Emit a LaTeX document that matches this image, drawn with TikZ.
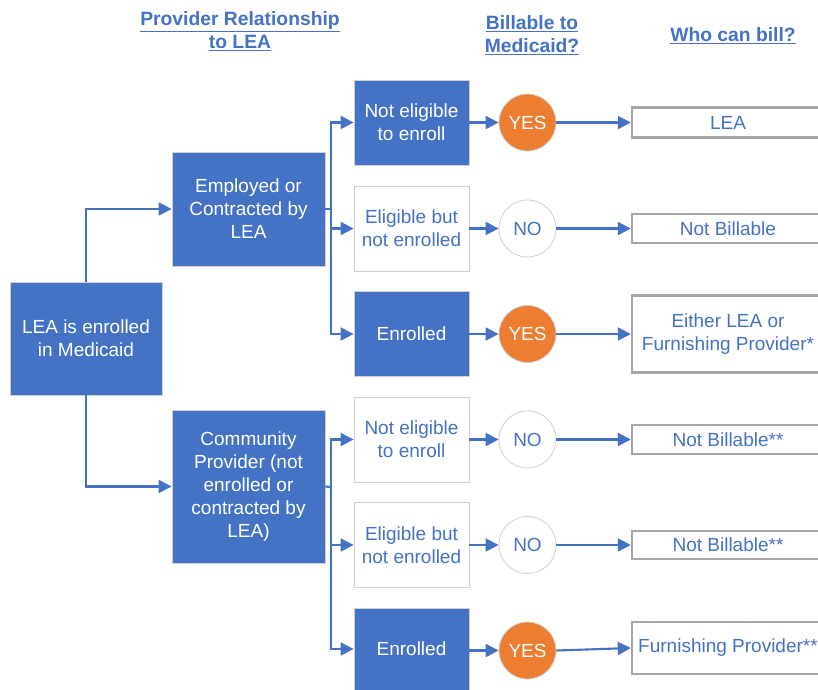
\documentclass[tikz,border=0pt]{standalone}
\usepackage{fontspec}
\setmainfont{Liberation Sans}
\usetikzlibrary{arrows.meta}
\definecolor{myblue}{HTML}{4472C4}
\definecolor{myorange}{HTML}{ED7D31}
\definecolor{mygray}{HTML}{A5A5A5}
\definecolor{lightgray}{HTML}{D0D0D0}
\tikzset{
  base/.style={font=\fontsize{19}{23}\selectfont, align=center, inner sep=2pt},
  bluebox/.style={base, fill=myblue, draw=lightgray, line width=0.8pt, text=white},
  whitebox/.style={base, fill=white, draw=lightgray, line width=0.8pt, text=myblue},
  col3/.style={minimum width=115pt, minimum height=85pt},
  yescirc/.style={base, circle, fill=myorange, draw=lightgray, line width=0.8pt, text=white, minimum size=57pt, inner sep=0pt},
  nocirc/.style={base, circle, fill=white, draw=lightgray, line width=0.8pt, text=myblue, minimum size=57pt, inner sep=0pt},
  billbox/.style={base, fill=white, draw=mygray, line width=2.4pt, text=myblue, minimum width=192pt, inner sep=0pt},
  head/.style={font=\fontsize{19.3}{23}\selectfont\bfseries, align=center, text=myblue},
  conn/.style={draw=myblue, line width=2.1pt},
  arr/.style={conn, -{Triangle[length=13pt,width=13pt]}},
}
\begin{document}
\begin{tikzpicture}[x=1pt,y=-1pt]
\useasboundingbox (0,0) rectangle (818,689);
% headers
\node[head] (h1) at (240,31.5) {\underline{Provider Relationship}\\\underline{to LEA}};
\node[head] (h2) at (532,35.5) {\underline{Billable to}\\\underline{Medicaid?}};
\node[head] (h3) at (733,36) {\underline{Who can bill?}};
% main boxes
\node[bluebox, minimum width=152pt, minimum height=113pt] (lea) at (86,338.5) {LEA is enrolled\\in Medicaid};
\node[bluebox, minimum width=153pt, minimum height=114pt] (emp) at (248.5,209) {Employed or\\Contracted by\\LEA};
\node[bluebox, minimum width=153pt, minimum height=153pt] (com) at (248.5,486.5) {Community\\Provider (not\\enrolled or\\contracted by\\LEA)};
% column 3
\node[bluebox, col3] (a1) at (411.5,122.5) {Not eligible\\to enroll};
\node[whitebox, col3] (a2) at (411.5,228.5) {Eligible but\\not enrolled};
\node[bluebox, col3] (a3) at (411.5,334) {Enrolled};
\node[whitebox, col3] (a4) at (411.5,439.5) {Not eligible\\to enroll};
\node[whitebox, col3] (a5) at (411.5,545) {Eligible but\\not enrolled};
\node[bluebox, col3, minimum height=82pt] (a6) at (411.5,649) {Enrolled};
% circles
\node[yescirc] (c1) at (527.5,122.5) {YES};
\node[nocirc] (c2) at (527.5,228.5) {NO};
\node[yescirc] (c3) at (527.5,334) {YES};
\node[nocirc] (c4) at (527.5,439.5) {NO};
\node[nocirc] (c5) at (527.5,545) {NO};
\node[yescirc] (c6) at (527.5,650.5) {YES};
% bill boxes
\node[billbox, minimum height=30pt] (b1) at (728,122.5) {LEA};
\node[billbox, minimum height=29pt] (b2) at (728,228.5) {Not Billable};
\node[billbox, minimum height=77pt] (b3) at (728,334) {Either LEA or\\Furnishing Provider*};
\node[billbox, minimum height=29pt] (b4) at (728,439.5) {Not Billable**};
\node[billbox, minimum height=28pt] (b5) at (728,545) {Not Billable**};
\node[billbox, minimum height=52pt] (b6) at (728,648) {Furnishing Provider**};
% connectors
\draw[arr] (lea.north) |- (emp.west);
\draw[arr] (lea.south) |- (com.west);
\coordinate (ej) at (331,209);
\coordinate (cj) at (331,487);
\draw[conn] (emp.east) -- (ej);
\draw[conn] (com.east) -- (cj);
\draw[arr] (ej) |- (a1.west);
\draw[arr] (ej) |- (a2.west);
\draw[arr] (ej) |- (a3.west);
\draw[arr] (cj) |- (a4.west);
\draw[arr] (cj) |- (a5.west);
\draw[arr] (cj) |- (a6.west);
\foreach \i in {1,...,6}{
  \draw[arr] (a\i.east |- c\i.west) -- (c\i.west);
  \draw[arr] (c\i.east) -- (b\i.west);
}
\end{tikzpicture}
\end{document}
